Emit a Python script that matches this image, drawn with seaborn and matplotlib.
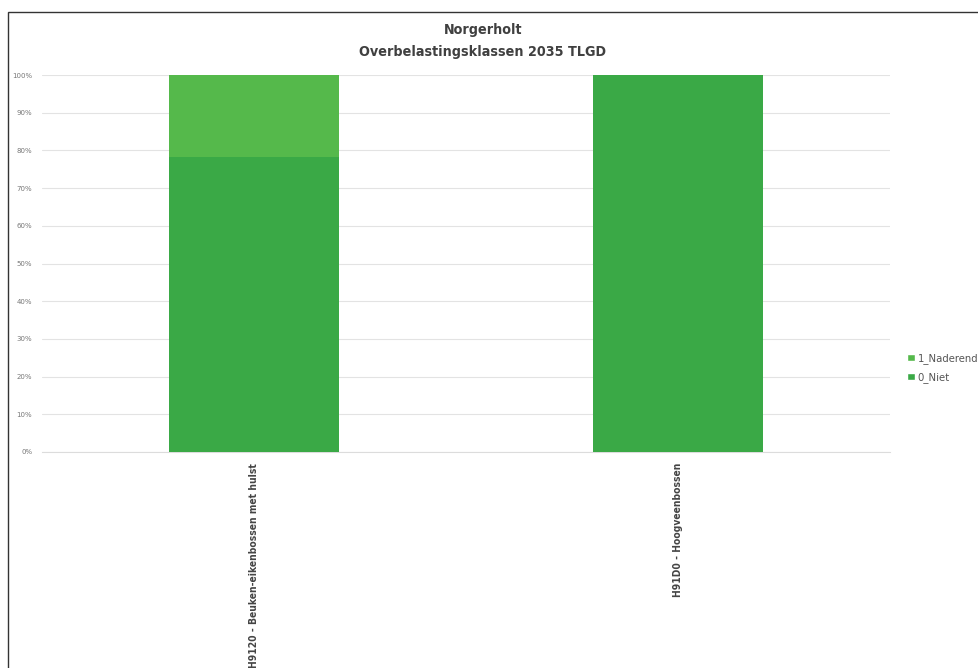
import matplotlib
matplotlib.use("Agg")
import matplotlib.pyplot as plt
import seaborn as sns
import pandas as pd
from matplotlib.patches import Patch, Rectangle
from matplotlib.ticker import PercentFormatter

categories = ["H9120 - Beuken-eikenbossen met hulst", "H91D0 - Hoogveenbossen"]
niet = [78.3, 100.0]
naderend = [21.7, 0.0]
series_names = ["0_Niet", "1_Naderend"]
title_lines = ["Norgerholt", "Overbelastingsklassen 2035 TLGD"]

col_niet = "#3aa946"
col_nad = "#55b94b"

sns.set_theme(style="white")
plt.rcParams["font.family"] = ["DejaVu Sans"]

df = pd.DataFrame({"cat": categories, "niet": niet,
                   "total": [a + b for a, b in zip(niet, naderend)]})

fig = plt.figure(figsize=(9.79, 6.68), dpi=100)
ax = fig.add_axes([42 / 979, (668 - 452) / 668, (890 - 42) / 979, (452 - 75) / 668])

sns.barplot(data=df, x="cat", y="total", color=col_nad, width=0.4,
            saturation=1, ax=ax, zorder=3, linewidth=0)
sns.barplot(data=df, x="cat", y="niet", color=col_niet, width=0.4,
            saturation=1, ax=ax, zorder=3, linewidth=0)

ax.set_ylim(0, 100)
ax.set_xlim(-0.5, 1.5)
ax.set_yticks(range(0, 101, 10))
ax.yaxis.set_major_formatter(PercentFormatter(decimals=0))
ax.grid(axis="y", color="#e3e3e3", linewidth=0.8, zorder=0)
ax.set_axisbelow(True)
for s in ax.spines.values():
    s.set_visible(False)
ax.spines["bottom"].set_visible(True)
ax.spines["bottom"].set_color("#dcdcdc")
ax.spines["bottom"].set_linewidth(0.8)
ax.set_xlabel("")
ax.set_ylabel("")
ax.tick_params(axis="y", labelsize=5, colors="#777777", length=0, pad=7)
ax.tick_params(axis="x", length=0, pad=8)
ax.set_xticks(range(len(categories)))
ax.set_xticklabels(categories, rotation=90, fontsize=7.4, fontweight="bold",
                   color="#444444", fontstretch="condensed", va="top")

fig.text(483 / 979, 1 - 30 / 668, title_lines[0], ha="center", va="center",
         fontsize=10.3, fontweight="bold", color="#404040", fontstretch="condensed")
fig.text(483 / 979, 1 - 52 / 668, title_lines[1], ha="center", va="center",
         fontsize=10.3, fontweight="bold", color="#404040", fontstretch="condensed")

handles = [Patch(facecolor=col_nad, label=series_names[1]),
           Patch(facecolor=col_niet, label=series_names[0])]
fig.legend(handles=handles, loc="center left", bbox_to_anchor=(898 / 979, 1 - 368 / 668),
           frameon=False, fontsize=7.3, handlelength=0.75, handleheight=0.75,
           handletextpad=0.3, labelspacing=0.8, labelcolor="#555555")

fig.patches.append(Rectangle((8 / 979, -0.1), 1.2, (1 - 12 / 668) + 0.1,
                             transform=fig.transFigure, fill=False,
                             edgecolor="#333333", linewidth=1.0))

fig.savefig("out.png", dpi=100, facecolor="white")
